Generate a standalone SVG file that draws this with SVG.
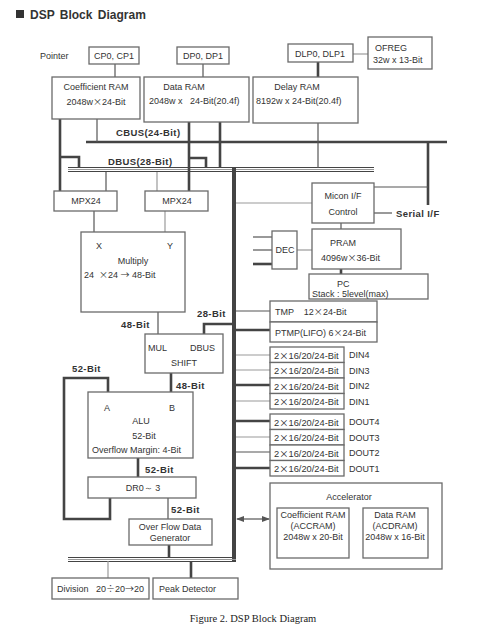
<svg xmlns="http://www.w3.org/2000/svg" width="494" height="636" viewBox="0 0 494 636">
<defs>
<style>
.box{fill:#fff;stroke:#6a6a6a;stroke-width:1.3}
.tk{stroke:#444;stroke-width:2.6;fill:none}
.th{stroke:#555;stroke-width:1.2;fill:none}
.lt{stroke:#9a9a9a;stroke-width:1.2;fill:none}
.t{font-family:"Liberation Sans",Arial,sans-serif;font-size:9px;fill:#333}
.io{font-size:9.3px}
.x{font-family:"Noto Sans CJK JP","Liberation Sans",sans-serif}
.m{text-anchor:middle}
.b{font-family:"Liberation Sans",Arial,sans-serif;font-size:9.5px;font-weight:bold;fill:#333;letter-spacing:0.4px}
</style>
<marker id="ah" viewBox="0 0 8 8" refX="7" refY="4" markerWidth="7" markerHeight="7" orient="auto-start-reverse"><path d="M0,1 L8,4 L0,7 z" fill="#555"/></marker>
</defs>
<rect width="494" height="636" fill="#fff"/>
<g id="title">
<rect x="16" y="10" width="8" height="8" fill="#333"/>
<text x="30" y="19" font-family="Liberation Sans,Arial,sans-serif" font-size="12" font-weight="bold" fill="#333" word-spacing="2">DSP Block Diagram</text>
</g>
<g id="connectors">
<line class="tk" x1="86" y1="142" x2="447" y2="142" stroke-width="3"/>
<line class="tk" x1="428" y1="142" x2="428" y2="205" stroke-width="3"/>
<line x1="68" y1="167.5" x2="374" y2="167.5" stroke="#444" stroke-width="1.2"/>
<line x1="68" y1="169.5" x2="374" y2="169.5" stroke="#999" stroke-width="1.2"/>
<line x1="68" y1="171.5" x2="374" y2="171.5" stroke="#444" stroke-width="1.2"/>
<line x1="234" y1="168" x2="234" y2="561" stroke="#444" stroke-width="4"/>
<line x1="68" y1="557.5" x2="236" y2="557.5" stroke="#444" stroke-width="1.2"/>
<line x1="68" y1="559.5" x2="236" y2="559.5" stroke="#999" stroke-width="1.2"/>
<line x1="68" y1="561.5" x2="236" y2="561.5" stroke="#444" stroke-width="1.2"/>
<line class="th" x1="115" y1="64" x2="115" y2="77"/>
<line class="th" x1="203" y1="64" x2="203" y2="77"/>
<line class="tk" x1="318" y1="62" x2="318" y2="77"/>
<line class="lt" x1="353" y1="54" x2="368" y2="54"/>
<line class="th" x1="318" y1="123" x2="318" y2="168"/>
<line class="tk" x1="60" y1="119" x2="60" y2="191"/>
<line class="th" x1="97" y1="119" x2="97" y2="142"/>
<polyline class="tk" points="60,157 79,157 79,168" stroke-width="2"/>
<line class="tk" x1="189" y1="122" x2="189" y2="191"/>
<polyline class="tk" points="189,158 206,158 206,168" stroke-width="2"/>
<line class="tk" x1="220" y1="122" x2="220" y2="168"/>
<line class="th" x1="106" y1="172" x2="106" y2="191"/>
<line class="lt" x1="157" y1="172" x2="157" y2="191"/>
<line class="th" x1="94" y1="211" x2="94" y2="232"/>
<line class="lt" x1="165" y1="211" x2="165" y2="232"/>
<line class="th" x1="158" y1="312" x2="158" y2="334"/>
<polyline class="tk" points="233,324 204,324 204,334" stroke-width="2"/>
<line class="tk" x1="171" y1="373" x2="171" y2="392"/>
<polyline class="tk" points="108,392 108,378 64,378 64,519 110,519 110,498" stroke-width="2"/>
<line class="tk" x1="138" y1="458" x2="138" y2="477"/>
<line class="th" x1="168" y1="498" x2="168" y2="519"/>
<line class="tk" x1="169" y1="545" x2="169" y2="558"/>
<line class="lt" x1="108" y1="561" x2="108" y2="578"/>
<line class="tk" x1="191" y1="561" x2="191" y2="578"/>
<line class="th" x1="374" y1="187" x2="428" y2="187"/>
<line class="lt" x1="236" y1="203" x2="312" y2="203"/>
<line class="th" x1="374" y1="213" x2="392" y2="213"/>
<line class="th" x1="341" y1="223" x2="341" y2="229"/>
<line class="lt" x1="297" y1="250" x2="312" y2="250"/>
<line class="th" x1="253" y1="237" x2="272" y2="237"/>
<line class="th" x1="253" y1="250" x2="272" y2="250"/>
<line class="tk" x1="253" y1="264" x2="272" y2="264" stroke-width="2"/>
<line class="tk" x1="341" y1="269" x2="341" y2="274" stroke-width="2"/>
<line class="th" x1="236" y1="311" x2="270" y2="311"/>
<line class="tk" x1="236" y1="330" x2="270" y2="330" stroke-width="2"/>
<line class="lt" x1="236" y1="355" x2="270" y2="355"/>
<line class="lt" x1="236" y1="370" x2="270" y2="370"/>
<line class="tk" x1="236" y1="385" x2="270" y2="385" stroke-width="2"/>
<line class="lt" x1="236" y1="401" x2="270" y2="401"/>
<line class="tk" x1="236" y1="421" x2="270" y2="421" stroke-width="2"/>
<line class="lt" x1="236" y1="437" x2="270" y2="437"/>
<line class="th" x1="236" y1="452" x2="270" y2="452"/>
<line class="tk" x1="236" y1="468" x2="270" y2="468" stroke-width="2"/>
<line class="th" x1="237" y1="519" x2="269" y2="519" marker-start="url(#ah)" marker-end="url(#ah)"/>
</g>
<g id="labels">
<text class="b" x="116" y="135.5">CBUS(24-Bit)</text>
<text class="b" x="108" y="164.5">DBUS(28-Bit)</text>
<text class="b" x="121" y="328">48-Bit</text>
<text class="b" x="197" y="317">28-Bit</text>
<text class="b" x="176" y="389">48-Bit</text>
<text class="b" x="72" y="372">52-Bit</text>
<text class="b" x="145" y="473">52-Bit</text>
<text class="b" x="171" y="513">52-Bit</text>
<text class="b" x="396" y="217">Serial I/F</text>
<text class="t" x="40" y="59">Pointer</text>
</g>
<g id="cp"><rect class="box" x="89" y="47" width="50" height="17"/><text class="t m" x="114" y="59">CP0, CP1</text></g>
<g id="dp"><rect class="box" x="177" y="47" width="52" height="17"/><text class="t m" x="203" y="59">DP0, DP1</text></g>
<g id="dlp"><rect class="box" x="288" y="44" width="65" height="18"/><text class="t m" x="320" y="57">DLP0, DLP1</text></g>
<g id="ofreg"><rect class="box" x="368" y="37" width="64" height="32"/><text class="t" x="375" y="51">OFREG</text><text class="t" x="373" y="63">32w x 13-Bit</text></g>
<g id="coefram"><rect class="box" x="52" y="77" width="88" height="42"/><text class="t m" x="96" y="90">Coefficient RAM</text><text class="t m" x="96" y="105">2048w<tspan class="x">×</tspan>24-Bit</text></g>
<g id="dataram"><rect class="box" x="144" y="77" width="105" height="45"/><text class="t m" x="184" y="90">Data RAM</text><text class="t" x="149" y="104" xml:space="preserve">2048w x   24-Bit(20.4f)</text></g>
<g id="delayram"><rect class="box" x="253" y="77" width="105" height="46"/><text class="t m" x="297" y="90">Delay RAM</text><text class="t" x="256" y="104">8192w x 24-Bit(20.4f)</text></g>
<g id="mpx1"><rect class="box" x="54" y="191" width="63" height="20"/><text class="t m" x="86" y="204">MPX24</text></g>
<g id="mpx2"><rect class="box" x="145" y="191" width="63" height="20"/><text class="t m" x="177" y="204">MPX24</text></g>
<g id="multiply"><rect class="box" x="81" y="232" width="104" height="80"/><text class="t" x="96" y="249">X</text><text class="t" x="167" y="249">Y</text><text class="t m" x="133" y="264">Multiply</text><text class="t" x="84" y="278" xml:space="preserve">24  <tspan class="x">×</tspan>24 <tspan class="x">→</tspan> 48-Bit</text></g>
<g id="shift"><rect class="box" x="145" y="334" width="78" height="39"/><text class="t" x="148" y="351">MUL</text><text class="t" x="190" y="351">DBUS</text><text class="t m" x="184" y="366">SHIFT</text></g>
<g id="alu"><rect class="box" x="88" y="392" width="105" height="66"/><text class="t" x="104" y="411">A</text><text class="t" x="169" y="411">B</text><text class="t m" x="141" y="424">ALU</text><text class="t m" x="144" y="439">52-Bit</text><text class="t" x="92" y="453">Overflow Margin: 4-Bit</text></g>
<g id="dr"><rect class="box" x="88" y="477" width="108" height="21"/><text class="t m" x="143" y="491">DR0～ 3</text></g>
<g id="ofg"><rect class="box" x="129" y="519" width="83" height="26"/><text class="t m" x="170" y="530">Over Flow Data</text><text class="t m" x="170" y="541">Generator</text></g>
<g id="division"><rect class="box" x="52" y="578" width="97" height="21"/><text class="t" x="57" y="592" xml:space="preserve">Division   20<tspan class="x">÷</tspan>20<tspan class="x">→</tspan>20</text></g>
<g id="peak"><rect class="box" x="153" y="578" width="85" height="21"/><text class="t" x="159" y="592">Peak Detector</text></g>
<g id="micon"><rect class="box" x="312" y="183" width="62" height="40"/><text class="t m" x="343" y="199">Micon I/F</text><text class="t m" x="343" y="215">Control</text></g>
<g id="dec"><rect class="box" x="272" y="231" width="25" height="38"/><text class="t m" x="285" y="253">DEC</text></g>
<g id="pram"><rect class="box" x="312" y="229" width="89" height="40"/><text class="t" x="330" y="246">PRAM</text><text class="t" x="321" y="261">4096w<tspan class="x">×</tspan>36-Bit</text></g>
<g id="pc"><rect class="box" x="309" y="274" width="119" height="25"/><text class="t" x="337" y="287">PC</text><text class="t" x="312" y="297">Stack : 5level(max)</text></g>
<g id="tmp"><rect class="box" x="270" y="301" width="107" height="21"/><text class="t" x="275" y="315" xml:space="preserve">TMP    12<tspan class="x">×</tspan>24-Bit</text></g>
<g id="ptmp"><rect class="box" x="270" y="322" width="107" height="20"/><text class="t" x="275" y="336">PTMP(LIFO) 6<tspan class="x">×</tspan>24-Bit</text></g>
<g id="din4"><rect class="box" x="270" y="347" width="74" height="15.5"/><text class="t io" x="274" y="358.5">2<tspan class="x">×</tspan>16/20/24-Bit</text><text class="t" x="349" y="358">DIN4</text></g>
<g id="din3"><rect class="box" x="270" y="362.5" width="74" height="15.5"/><text class="t io" x="274" y="374">2<tspan class="x">×</tspan>16/20/24-Bit</text><text class="t" x="349" y="373.5">DIN3</text></g>
<g id="din2"><rect class="box" x="270" y="378" width="74" height="15.5"/><text class="t io" x="274" y="389.5">2<tspan class="x">×</tspan>16/20/24-Bit</text><text class="t" x="349" y="389">DIN2</text></g>
<g id="din1"><rect class="box" x="270" y="393.5" width="74" height="15.5"/><text class="t io" x="274" y="405">2<tspan class="x">×</tspan>16/20/24-Bit</text><text class="t" x="349" y="404.5">DIN1</text></g>
<g id="dout4"><rect class="box" x="270" y="414" width="74" height="15.5"/><text class="t io" x="274" y="425.5">2<tspan class="x">×</tspan>16/20/24-Bit</text><text class="t" x="349" y="425">DOUT4</text></g>
<g id="dout3"><rect class="box" x="270" y="429.5" width="74" height="15.5"/><text class="t io" x="274" y="441">2<tspan class="x">×</tspan>16/20/24-Bit</text><text class="t" x="349" y="440.5">DOUT3</text></g>
<g id="dout2"><rect class="box" x="270" y="445" width="74" height="15.5"/><text class="t io" x="274" y="456.5">2<tspan class="x">×</tspan>16/20/24-Bit</text><text class="t" x="349" y="456">DOUT2</text></g>
<g id="dout1"><rect class="box" x="270" y="460.5" width="74" height="15.5"/><text class="t io" x="274" y="472">2<tspan class="x">×</tspan>16/20/24-Bit</text><text class="t" x="349" y="471.5">DOUT1</text></g>
<g id="accelerator"><rect class="box" x="270" y="483" width="172" height="86"/><text class="t m" x="349" y="500">Accelerator</text></g>
<g id="accram"><rect class="box" x="277" y="508" width="72" height="50"/><text class="t m" x="313" y="518">Coefficient RAM</text><text class="t m" x="313" y="529">(ACCRAM)</text><text class="t m" x="313" y="540">2048w x 20-Bit</text></g>
<g id="acdram"><rect class="box" x="363" y="508" width="65" height="50"/><text class="t m" x="395" y="518">Data RAM</text><text class="t m" x="395" y="529">(ACDRAM)</text><text class="t m" x="395" y="540">2048w x 16-Bit</text></g>
<g id="caption"><text x="253" y="622" font-family="Liberation Serif,Times New Roman,serif" font-size="10.5" fill="#222" text-anchor="middle">Figure 2. DSP Block Diagram</text></g>
</svg>
